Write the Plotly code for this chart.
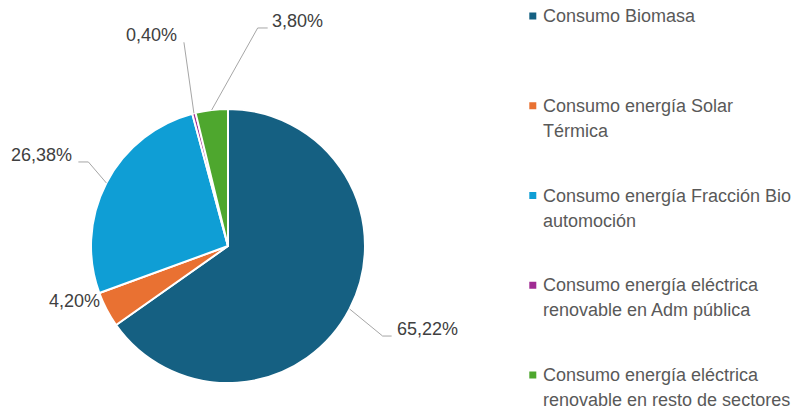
import math
import plotly.graph_objects as go

# data
categories = [
    "Consumo Biomasa",
    "Consumo energía Solar Térmica",
    "Consumo energía Fracción Bio automoción",
    "Consumo energía eléctrica renovable en Adm pública",
    "Consumo energía eléctrica renovable en resto de sectores",
]
legend_text = [
    "Consumo Biomasa",
    "Consumo energía Solar<br>Térmica",
    "Consumo energía Fracción Bio<br>automoción",
    "Consumo energía eléctrica<br>renovable en Adm pública",
    "Consumo energía eléctrica<br>renovable en resto de sectores",
]
shares = [65.22, 4.20, 26.38, 0.40, 3.80]
colors = ["#156082", "#E97132", "#0F9ED5", "#A02B93", "#4EA72E"]

W, H = 792, 412
CX, CY, R = 228, 246, 137

# leader line layout per slice: offset of elbow from the slice edge, horizontal tail, side of text
label_style = [
    dict(dx=33, dy=27, tail=9, side="right", line=True, gap=3),
    dict(dx=-1, dy=-2, tail=0, side="left", line=False, gap=4),
    dict(dx=-18, dy=-21, tail=-10, side="left", line=True, gap=4),
    dict(dx=-10, dy=-71, tail=0, side="left", line=True, gap=5),
    dict(dx=46, dy=-82, tail=10, side="right", line=True, gap=2),
]


def px(x):
    return x / W


def py(y):
    return 1 - y / H


fig = go.Figure()
fig.add_trace(
    go.Pie(
        labels=categories,
        values=shares,
        sort=False,
        direction="clockwise",
        rotation=0,
        marker=dict(colors=colors, line=dict(color="white", width=2)),
        textinfo="none",
        hoverinfo="label+percent",
        showlegend=False,
        domain=dict(x=[px(CX - R), px(CX + R)], y=[py(CY + R), py(CY - R)]),
    )
)

shapes = []
annotations = []
total = sum(shares)
cum = 0
for val, st in zip(shares, label_style):
    mid = (cum + val / 2) / total * 2 * math.pi
    cum += val
    ex = CX + R * math.sin(mid)
    ey = CY - R * math.cos(mid)
    bx, by = ex + st["dx"], ey + st["dy"]
    tx = bx + st["tail"]
    if st["line"]:
        shapes.append(
            dict(
                type="path",
                xref="paper",
                yref="paper",
                path=f"M {px(ex)},{py(ey)} L {px(bx)},{py(by)} L {px(tx)},{py(by)}",
                line=dict(color="#A6A6A6", width=1),
            )
        )
    if st["side"] == "right":
        ax, anchor = tx + st["gap"], "left"
    else:
        ax, anchor = tx - st["gap"], "right"
    annotations.append(
        dict(
            x=px(ax),
            y=py(by - 7),
            xref="paper",
            yref="paper",
            text=f"{val:.2f}%".replace(".", ","),
            showarrow=False,
            xanchor=anchor,
            yanchor="middle",
            font=dict(size=18, color="#404040"),
        )
    )

# legend on the right (one annotation per text line for Excel-like spacing)
for i, (txt, col) in enumerate(zip(legend_text, colors)):
    yc = 16 + 89.75 * i
    shapes.append(
        dict(
            type="rect",
            xref="paper",
            yref="paper",
            x0=px(529.3),
            x1=px(536.3),
            y0=py(yc + 3.5),
            y1=py(yc - 3.5),
            fillcolor=col,
            line=dict(width=0),
        )
    )
    for j, part in enumerate(txt.split("<br>")):
        annotations.append(
            dict(
                x=px(541),
                y=py(yc + 25 * j),
                xref="paper",
                yref="paper",
                text=part,
                showarrow=False,
                xanchor="left",
                yanchor="middle",
                font=dict(size=18, color="#595959"),
            )
        )

fig.update_layout(
    width=W,
    height=H,
    margin=dict(l=0, r=0, t=0, b=0),
    paper_bgcolor="white",
    plot_bgcolor="white",
    font=dict(family="Liberation Sans, Arial, sans-serif"),
    shapes=shapes,
    annotations=annotations,
    showlegend=False,
)

# drop the default page margin so the figure fills the window exactly
fig.write_html(
    "out.html",
    config={"displayModeBar": False},
    post_script="document.body.style.margin='0';document.body.style.overflow='hidden';",
)
